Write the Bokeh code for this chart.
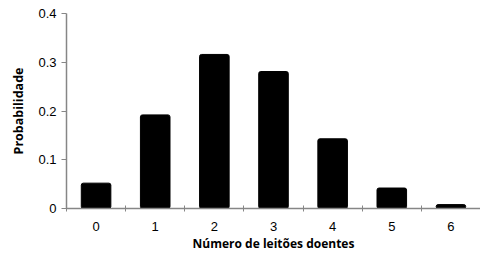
from bokeh.plotting import figure
from bokeh.models import FixedTicker, Range1d
from bokeh.embed import file_html
from bokeh.resources import INLINE

categories = [0, 1, 2, 3, 4, 5, 6]
labels = ["0", "1", "2", "3", "4", "5", "6"]
probabilities = [0.052, 0.192, 0.316, 0.281, 0.143, 0.042, 0.008]
y_ticks = [0, 0.1, 0.2, 0.3, 0.4]
y_labels = ["0", "0.1", "0.2", "0.3", "0.4"]
x_title = "Número de leitões doentes"
y_title = "Probabilidade"

p = figure(width=480, height=254, output_backend="svg", toolbar_location=None,
           x_range=Range1d(-0.5, 6.5), y_range=Range1d(0, 0.4),
           min_border_left=66, min_border_right=0, min_border_top=13, min_border_bottom=45)
p.outline_line_color = None
p.xgrid.grid_line_color = None
p.ygrid.grid_line_color = None

p.vbar(x=categories, top=probabilities, width=0.5, color="black", border_radius=2)

axc = "#868686"
tick_font = "Liberation Sans"
title_font = "Open Sans"
xa = p.xaxis[0]
xa.ticker = FixedTicker(ticks=categories, minor_ticks=[c - 0.5 for c in categories] + [6.5])
xa.major_label_overrides = {c: l for c, l in zip(categories, labels)}
xa.major_tick_line_color = None
xa.major_tick_in = 0
xa.major_tick_out = 0
xa.minor_tick_line_color = axc
xa.minor_tick_in = 3
xa.minor_tick_out = 3
xa.axis_line_color = axc
xa.axis_line_width = 1.5
xa.major_label_standoff = 10
xa.major_label_text_font = tick_font
xa.major_label_text_font_size = "13px"
xa.major_label_text_color = "black"
xa.axis_label = x_title
xa.axis_label_text_font = title_font
xa.axis_label_text_font_size = "12px"
xa.axis_label_text_font_style = "bold"
xa.axis_label_text_color = "black"
xa.axis_label_standoff = 1

ya = p.yaxis[0]
ya.ticker = FixedTicker(ticks=y_ticks)
ya.major_label_overrides = {t: l for t, l in zip(y_ticks, y_labels)}
ya.minor_tick_line_color = None
ya.major_tick_line_color = axc
ya.major_tick_in = 0
ya.major_tick_out = 5
ya.axis_line_color = axc
ya.axis_line_width = 1.5
ya.major_label_standoff = 5
ya.major_label_text_font = tick_font
ya.major_label_text_font_size = "13px"
ya.major_label_text_color = "black"
ya.axis_label = y_title
ya.axis_label_text_font = title_font
ya.axis_label_text_font_size = "12.5px"
ya.axis_label_text_font_style = "bold"
ya.axis_label_text_color = "black"
ya.axis_label_standoff = 8

open("out.html", "w").write(file_html(p, INLINE))
